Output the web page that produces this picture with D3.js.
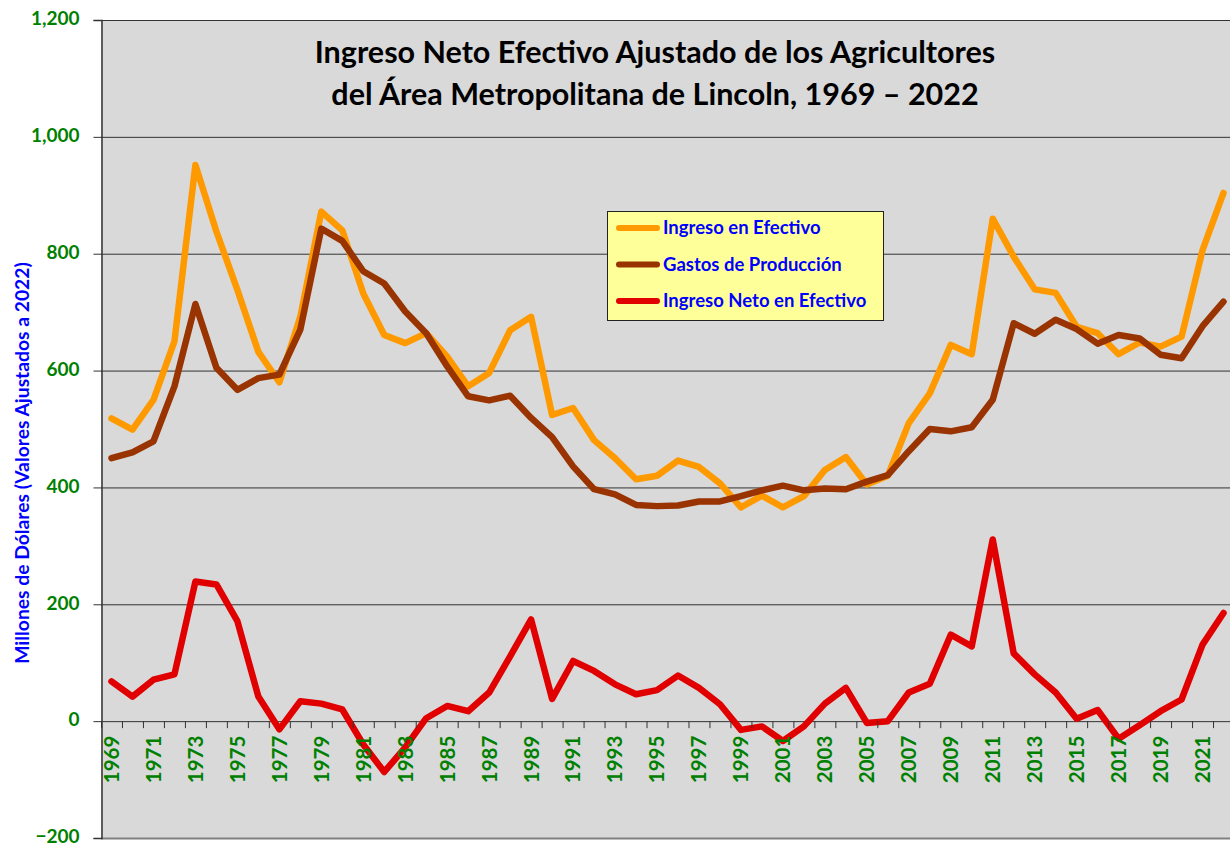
<!DOCTYPE html>
<html>
<head>
<meta charset="utf-8">
<script src="https://cdn.jsdelivr.net/npm/d3@7"></script>
<style>
  body { margin: 0; background: #fff; }
  text { font-family: Lato, "Open Sans", sans-serif; font-weight: bold; }
</style>
</head>
<body>
<div id="chart"></div>
<script>
// years on the x axis
var years = d3.range(1969, 2023);

// Ingreso en Efectivo (orange)
var ingreso = [518, 499, 550, 650, 952, 838, 738, 632, 580, 692,
  872, 840, 732, 661, 647, 664, 624, 573, 596, 669,
  692, 524, 536, 481, 450, 414, 420, 446, 435, 407,
  366, 386, 366, 385, 430, 452, 405, 420, 510, 561,
  644, 628, 860, 795, 739, 733, 675, 664, 628, 648,
  641, 658, 806, 904];

// Gastos de Producción (brown)
var gastos = [450, 460, 479, 573, 714, 605, 567, 587, 593, 670,
  843, 822, 770, 749, 701, 664, 607, 556, 549, 557,
  519, 486, 436, 397, 388, 370, 368, 369, 376, 376,
  385, 395, 403, 395, 398, 397, 410, 421, 462, 500,
  496, 503, 550, 681, 663, 687, 671, 646, 661, 655,
  627, 621, 676, 718];

// Ingreso Neto en Efectivo (red)
var neto = [68, 42, 71, 80, 239, 234, 171, 42, -14, 34,
  30, 20, -40, -87, -45, 5, 26, 17, 49, 111,
  174, 38, 103, 86, 63, 46, 53, 78, 57, 29,
  -15, -9, -34, -9, 30, 57, -3, 0, 49, 64,
  148, 128, 311, 116, 80, 49, 4, 19, -30, -7,
  17, 37, 131, 185];

var yTicks = [-200, 0, 200, 400, 600, 800, 1000, 1200];
var seriesNames = ["Ingreso en Efectivo", "Gastos de Producción", "Ingreso Neto en Efectivo"];
var seriesColors = ["#ff9900", "#993300", "#e00000"];

var width = 1230;
var height = 846;
var plotLeft = 101, plotRight = 1234, plotTop = 20, plotBottom = 838;

var svg = d3.select("#chart")
  .append("svg")
  .attr("width", width)
  .attr("height", height);

var xScale = d3.scaleBand()
  .domain(years)
  .range([plotLeft, plotRight]);

var yScale = d3.scaleLinear()
  .domain([-200, 1200])
  .range([plotBottom, plotTop]);

// plot area
svg.append("rect")
  .attr("x", plotLeft)
  .attr("y", plotTop)
  .attr("width", width - plotLeft)
  .attr("height", plotBottom - plotTop)
  .attr("fill", "#d9d9d9");

// gridlines
svg.append("g")
  .selectAll("line")
  .data(yTicks)
  .enter()
  .append("line")
  .attr("x1", plotLeft)
  .attr("x2", width)
  .attr("y1", function(d) { return yScale(d) + 0.5; })
  .attr("y2", function(d) { return yScale(d) + 0.5; })
  .attr("stroke", function(d) { return (d == -200) ? "#808080" : "#333"; })
  .attr("stroke-width", function(d) { return (d == -200) ? 2 : 1; });

// y axis
var yAxis = d3.axisLeft(yScale)
  .tickValues(yTicks)
  .tickSize(8)
  .tickFormat(d3.format(","));

var yG = svg.append("g")
  .attr("transform", "translate(" + (plotLeft + 0.5) + ",0)")
  .call(yAxis);
yG.select(".domain").attr("stroke", "#333").attr("stroke-width", 1.5);
yG.selectAll(".tick line").attr("stroke", "#333");
yG.selectAll(".tick text")
  .attr("x", -22)
  .attr("dy", "0.25em")
  .attr("fill", "#008000")
  .style("font-size", "19px")
  .style("font-family", "Lato, sans-serif")
  .style("font-weight", "bold");

// y axis title
svg.append("text")
  .attr("transform", "translate(29," + 463 + ")rotate(-90)")
  .attr("text-anchor", "middle")
  .attr("fill", "#0000ff")
  .style("font-size", "19.3px")
  .text("Millones de Dólares (Valores Ajustados a 2022)");

// lines
var lineGen = d3.line()
  .x(function(d, i) { return xScale(years[i]) + xScale.bandwidth() / 2; })
  .y(function(d) { return yScale(d); });

[ingreso, gastos, neto].forEach(function(s, k) {
  svg.append("path")
    .datum(s)
    .attr("d", lineGen)
    .attr("fill", "none")
    .attr("stroke", seriesColors[k])
    .attr("stroke-width", 6.5)
    .attr("stroke-linejoin", "round")
    .attr("stroke-linecap", "round");
});

// x axis on the zero line
var xAxis = d3.axisBottom(xScale)
  .tickSize(0)
  .tickFormat(function(d) { return (d - 1969) % 2 == 0 ? d : ""; });

var xG = svg.append("g")
  .attr("transform", "translate(0," + (yScale(0) + 0.5) + ")")
  .call(xAxis);
xG.select(".domain").remove();
xG.selectAll(".tick text")
  .attr("transform", "rotate(-90)")
  .attr("x", -14)
  .attr("y", 0)
  .attr("dy", "0.36em")
  .attr("text-anchor", "end")
  .attr("fill", "#008000")
  .style("font-size", "20.5px")
  .style("font-family", "Lato, sans-serif")
  .style("font-weight", "bold");

// tick marks between the categories
svg.append("g")
  .selectAll("line")
  .data(years)
  .enter()
  .append("line")
  .attr("x1", function(d) { return xScale(d) + 0.5; })
  .attr("x2", function(d) { return xScale(d) + 0.5; })
  .attr("y1", yScale(0))
  .attr("y2", yScale(0) + 7)
  .attr("stroke", "#333");

// title
var title = svg.append("text")
  .attr("text-anchor", "middle")
  .attr("fill", "#000")
  .style("font-size", "30.5px");
title.append("tspan").attr("x", 655).attr("y", 63)
  .text("Ingreso Neto Efectivo Ajustado de los Agricultores");
title.append("tspan").attr("x", 655).attr("y", 105)
  .text("del Área Metropolitana de Lincoln, 1969 – 2022");

// legend
var legend = svg.append("g").attr("transform", "translate(607,211)");
legend.append("rect")
  .attr("x", 0.5)
  .attr("y", 0.5)
  .attr("width", 276)
  .attr("height", 109)
  .attr("fill", "#ffff99")
  .attr("stroke", "#222")
  .attr("stroke-width", 1);

seriesNames.forEach(function(name, i) {
  var yy = 17 + i * 36.5;
  legend.append("line")
    .attr("x1", 12).attr("x2", 50)
    .attr("y1", yy).attr("y2", yy)
    .attr("stroke", seriesColors[i])
    .attr("stroke-width", 6)
    .attr("stroke-linecap", "round");
  legend.append("text")
    .attr("x", 56)
    .attr("y", yy)
    .attr("dy", "0.35em")
    .attr("fill", "#0000ff")
    .style("font-size", "18.5px")
    .text(name);
});
</script>
</body>
</html>
